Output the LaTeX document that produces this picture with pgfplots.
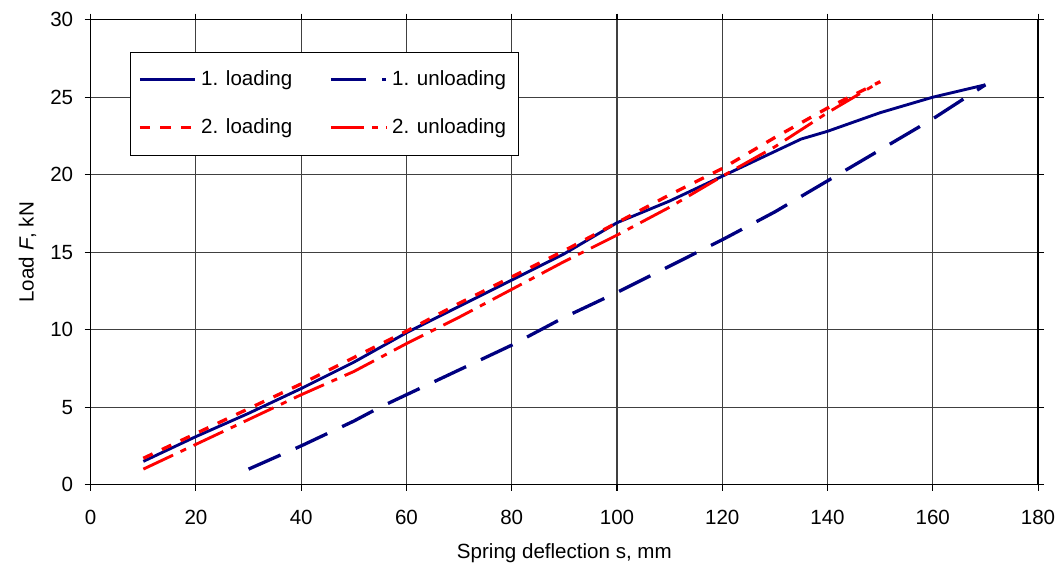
\documentclass[border=0pt]{standalone}
\usepackage{fontspec}
\setmainfont{Liberation Sans}
\usepackage{pgfplots}
\pgfplotsset{compat=1.18}
\definecolor{navyline}{RGB}{0,0,128}
\definecolor{redline}{RGB}{255,0,0}

\begin{document}
\begin{tikzpicture}
\begin{axis}[
  scale only axis,
  width=16.2cm, height=7.95cm,
  xmin=0, xmax=180, ymin=0, ymax=30,
  xtick={0,20,...,180}, ytick={0,5,...,30},
  grid=major, grid style={black!75, line width=0.5pt},
  axis line style={black, line width=0.7pt},
  tick align=outside, major tick length=3pt,
  tick style={black, line width=0.5pt},
  /pgf/number format/assume math mode=true,
  tick label style={font=\fontsize{10}{12}\selectfont},
  label style={font=\fontsize{10}{12}\selectfont},
  xticklabel shift=6pt, yticklabel shift=2pt,
  xlabel={Spring deflection s, mm},
  ylabel={Load \textit{F}, kN},
  xlabel style={yshift=-2pt, text depth=5pt},
  ylabel style={text height=13pt},
  title={\rule{0pt}{0pt}}, title style={inner sep=1.7pt},
  legend columns=2,
  legend style={at={(rel axis cs:0.041,0.931)}, anchor=north west,
    draw=black, line width=0.5pt, font=\fontsize{10}{12}\selectfont,
    /tikz/every even column/.append style={column sep=16pt},
    row sep=10.5pt, inner xsep=4pt, inner ysep=7pt},
  legend image code/.code={\draw[#1] (0cm,0cm) -- (0.95cm,0cm);},
]
\addplot[navyline, line width=1.4pt] coordinates {
  (10,1.5) (20,3.1) (30,4.6) (40,6.2) (50,7.9) (60,9.8) (70,11.5) (80,13.2)
  (90,14.9) (100,16.9) (110,18.3) (120,19.9) (130,21.5) (135,22.3) (140,22.8)
  (150,24.0) (160,25.0) (170,25.8)};
\addlegendentry{1. loading}
\addplot[navyline, line width=1.6pt, dash pattern=on 17pt off 8pt] coordinates {
  (30,1.0) (40,2.5) (50,4.1) (55,5.0) (60,5.8) (70,7.4) (75,8.2) (80,9.0)
  (90,10.8) (100,12.4) (110,14.1) (120,15.8) (130,17.6) (140,19.6) (150,21.6)
  (160,23.6) (170,25.8)};
\addlegendentry{1. unloading}
\addplot[redline, line width=1.6pt, dash pattern=on 5pt off 5pt] coordinates {
  (10,1.7) (20,3.3) (30,4.9) (40,6.5) (50,8.2) (60,9.9) (70,11.7) (80,13.4)
  (90,15.1) (100,16.9) (110,18.7) (120,20.4) (130,22.4) (140,24.3) (150,26.0)};
\addlegendentry{2. loading}
\addplot[redline, line width=1.4pt, dash pattern=on 16pt off 4pt on 3pt off 4pt] coordinates {
  (10,1.0) (20,2.6) (30,4.2) (40,5.8) (50,7.3) (60,9.1) (70,10.8) (80,12.6)
  (90,14.4) (100,16.1) (110,17.9) (120,19.9) (130,21.8) (140,24.0) (150,26.0)};
\addlegendentry{2. unloading}
\end{axis}
\end{tikzpicture}
\end{document}
